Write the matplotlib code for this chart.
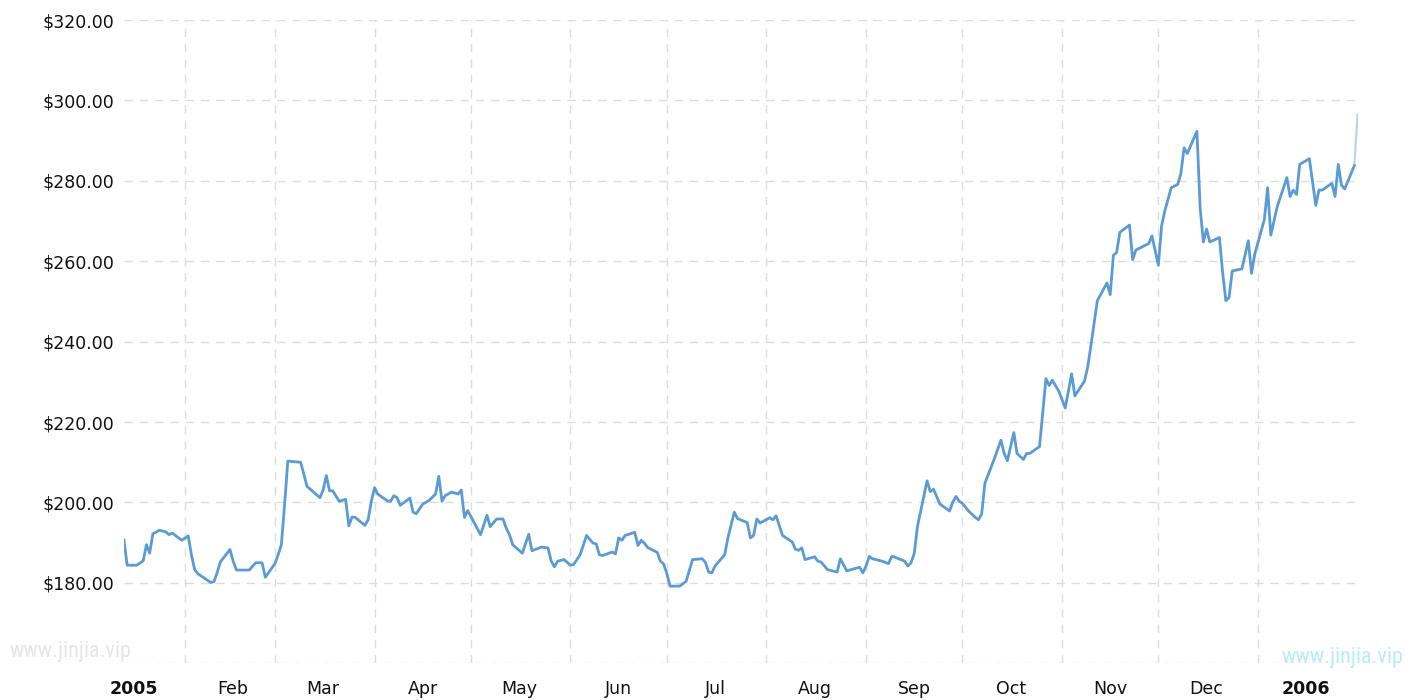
import matplotlib.pyplot as plt
import matplotlib.dates as mdates
from matplotlib import font_manager
import numpy as np
import pandas as pd

dates = [
    "2005-01-13", "2005-01-14", "2005-01-17", "2005-01-19", "2005-01-20", "2005-01-21", "2005-01-22",
    "2005-01-24", "2005-01-26", "2005-01-27", "2005-01-28", "2005-01-31",
    "2005-02-02", "2005-02-03", "2005-02-04", "2005-02-05", "2005-02-07", "2005-02-09", "2005-02-10",
    "2005-02-11", "2005-02-12", "2005-02-15", "2005-02-16", "2005-02-17", "2005-02-21", "2005-02-23",
    "2005-02-25", "2005-02-26",
    "2005-03-01", "2005-03-02", "2005-03-03", "2005-03-04", "2005-03-05", "2005-03-09", "2005-03-11",
    "2005-03-15", "2005-03-16", "2005-03-17", "2005-03-18", "2005-03-19", "2005-03-21", "2005-03-23",
    "2005-03-24", "2005-03-25", "2005-03-26", "2005-03-29", "2005-03-30", "2005-03-31",
    "2005-04-01", "2005-04-02", "2005-04-05", "2005-04-06", "2005-04-07", "2005-04-08", "2005-04-09",
    "2005-04-12", "2005-04-13", "2005-04-14", "2005-04-16", "2005-04-18", "2005-04-20", "2005-04-21",
    "2005-04-22", "2005-04-23", "2005-04-25", "2005-04-27", "2005-04-28", "2005-04-29", "2005-04-30",
    "2005-05-04", "2005-05-06", "2005-05-07", "2005-05-09", "2005-05-11", "2005-05-12", "2005-05-13",
    "2005-05-14", "2005-05-17", "2005-05-19", "2005-05-20", "2005-05-23", "2005-05-25", "2005-05-26",
    "2005-05-27", "2005-05-28", "2005-05-30",
    "2005-06-01", "2005-06-02", "2005-06-04", "2005-06-06", "2005-06-08", "2005-06-09", "2005-06-10",
    "2005-06-11", "2005-06-14", "2005-06-15", "2005-06-16", "2005-06-17", "2005-06-18", "2005-06-21",
    "2005-06-22", "2005-06-23", "2005-06-24", "2005-06-25", "2005-06-28", "2005-06-29", "2005-06-30",
    "2005-07-01", "2005-07-02", "2005-07-05", "2005-07-07", "2005-07-09", "2005-07-12", "2005-07-13",
    "2005-07-14", "2005-07-15", "2005-07-16", "2005-07-19", "2005-07-20", "2005-07-22", "2005-07-23",
    "2005-07-26", "2005-07-27", "2005-07-28", "2005-07-29", "2005-07-30",
    "2005-08-02", "2005-08-03", "2005-08-04", "2005-08-06", "2005-08-09", "2005-08-10", "2005-08-11",
    "2005-08-12", "2005-08-13", "2005-08-16", "2005-08-17", "2005-08-18", "2005-08-20", "2005-08-23",
    "2005-08-24", "2005-08-26", "2005-08-30", "2005-08-31",
    "2005-09-01", "2005-09-02", "2005-09-03", "2005-09-06", "2005-09-08", "2005-09-09", "2005-09-10",
    "2005-09-13", "2005-09-14", "2005-09-15", "2005-09-16", "2005-09-17", "2005-09-20", "2005-09-21",
    "2005-09-22", "2005-09-24", "2005-09-27", "2005-09-28", "2005-09-29", "2005-09-30",
    "2005-10-01", "2005-10-03", "2005-10-05", "2005-10-06", "2005-10-07", "2005-10-08", "2005-10-11",
    "2005-10-13", "2005-10-14", "2005-10-15", "2005-10-17", "2005-10-18", "2005-10-20", "2005-10-21",
    "2005-10-22", "2005-10-25", "2005-10-27", "2005-10-28", "2005-10-29", "2005-10-31",
    "2005-11-02", "2005-11-04", "2005-11-05", "2005-11-08", "2005-11-09", "2005-11-10", "2005-11-12",
    "2005-11-15", "2005-11-16", "2005-11-17", "2005-11-18", "2005-11-19", "2005-11-22", "2005-11-23",
    "2005-11-24", "2005-11-28", "2005-11-29",
    "2005-12-01", "2005-12-02", "2005-12-03", "2005-12-05", "2005-12-07", "2005-12-08", "2005-12-09",
    "2005-12-10", "2005-12-13", "2005-12-14", "2005-12-15", "2005-12-16", "2005-12-17", "2005-12-20",
    "2005-12-21", "2005-12-22", "2005-12-23", "2005-12-24", "2005-12-27", "2005-12-29", "2005-12-30",
    "2005-12-31",
    "2006-01-03", "2006-01-04", "2006-01-05", "2006-01-07", "2006-01-10", "2006-01-11", "2006-01-12",
    "2006-01-13", "2006-01-14", "2006-01-17", "2006-01-19", "2006-01-20", "2006-01-21", "2006-01-24",
    "2006-01-25", "2006-01-26", "2006-01-27", "2006-01-28", "2006-01-31", "2006-02-01",
]

prices = [
    190.7, 184.4, 184.4, 185.5, 189.5, 187.4, 192.2, 193.1, 192.7, 192.0, 192.4, 190.6,
    191.7, 187.0, 183.3, 182.3, 181.2, 180.1, 180.3, 182.5, 185.2, 188.3, 185.4, 183.2, 183.2, 185.0,
    185.0, 181.4,
    184.8, 187.0, 189.5, 199.4, 210.3, 210.0, 204.0, 201.2, 203.1, 206.7, 202.9, 202.9, 200.3, 200.8,
    194.2, 196.4, 196.3, 194.3, 195.7, 200.3,
    203.7, 202.1, 200.4, 200.3, 201.7, 201.2, 199.3, 201.1, 197.6, 197.2, 199.6, 200.5, 202.1, 206.5,
    200.3, 201.7, 202.6, 202.1, 203.1, 196.3, 198.0,
    192.0, 196.8, 194.0, 195.9, 195.9, 193.6, 192.0, 189.5, 187.4, 192.1, 188.0, 188.9, 188.7, 185.4,
    184.0, 185.4, 185.8,
    184.4, 184.6, 187.0, 191.8, 189.9, 189.7, 187.0, 186.8, 187.7, 187.2, 191.2, 190.6, 191.8, 192.6,
    189.3, 190.6, 189.9, 188.8, 187.6, 185.4, 184.7,
    182.3, 179.2, 179.2, 180.4, 185.8, 186.0, 185.1, 182.7, 182.5, 184.2, 187.0, 191.2, 197.6, 196.0,
    195.0, 191.2, 191.8, 195.9, 194.9,
    196.2, 195.7, 196.7, 191.8, 190.2, 188.4, 188.1, 188.7, 185.8, 186.5, 185.4, 185.2, 183.3, 182.7,
    186.0, 183.0, 183.9, 182.5,
    184.2, 186.6, 186.0, 185.4, 184.8, 186.6, 186.4, 185.4, 184.2, 185.0, 187.3, 194.0, 205.4, 202.7,
    203.3, 199.6, 197.9, 200.1, 201.5, 200.3,
    199.8, 197.8, 196.3, 195.7, 197.2, 204.8, 211.0, 215.5, 212.2, 210.4, 217.4, 212.2, 210.7, 212.2,
    212.2, 213.9, 230.8, 229.1, 230.4, 227.7,
    223.5, 232.0, 226.5, 230.2, 233.7, 239.0, 250.2, 254.6, 251.7, 261.5, 262.2, 267.2, 269.0, 260.4,
    262.8, 264.4, 266.3,
    259.0, 268.8, 272.5, 278.3, 279.1, 281.8, 288.2, 286.8, 292.3, 273.3, 264.8, 268.0, 264.8, 265.9,
    257.2, 250.2, 251.0, 257.6, 258.1, 265.1, 257.0, 261.8,
    270.4, 278.3, 266.5, 273.6, 280.8, 276.1, 277.7, 276.6, 284.1, 285.5, 273.9, 277.7, 277.7, 279.4,
    276.1, 284.1, 278.9, 278.0, 283.8, 296.5,
]

month_labels = ["2005", "Feb", "Mar", "Apr", "May", "Jun", "Jul", "Aug", "Sep", "Oct", "Nov", "Dec", "2006"]
y_ticks = [160, 180, 200, 220, 240, 260, 280, 300, 320]

x = pd.to_datetime(dates)
month_starts = pd.date_range("2005-01-01", "2006-01-01", freq="MS")
label_pos = month_starts + pd.Timedelta(days=15)

# pick a condensed face for the watermark if one is around
installed = {f.name for f in font_manager.fontManager.ttflist}
narrow = [f for f in ["Liberation Sans Narrow", "DejaVu Sans Condensed", "Roboto Condensed",
                      "Open Sans Condensed", "Noto Sans"] if f in installed]
wm_family = narrow[:1] + ["DejaVu Sans"]
wm_stretch = "normal" if narrow and narrow[0] != "Noto Sans" else "condensed"

fig = plt.figure(figsize=(14.15, 7), dpi=100)
ax = fig.add_axes([0.0876, 0.0524, 0.8718, 0.919])

grid_kw = dict(color="#dddddd", linewidth=1.0, linestyle=(0, (6, 5)))
line_color = "#5b9bd5"

ax.plot(x[:-1], prices[:-1], color=line_color, linewidth=2.0, zorder=3)
ax.plot(x[-2:], prices[-2:], color=line_color, linewidth=1.5, alpha=0.45, zorder=3)

ax.set_yticks(y_ticks)
ax.set_yticklabels(["" if v == 160 else f"${v:.2f}" for v in y_ticks])

ax.set_xticks(month_starts)
ax.set_xticklabels([""] * len(month_starts))
ax.set_xticks(label_pos, minor=True)
ax.set_xticklabels(month_labels, minor=True)

ax.set_xlim(pd.Timestamp("2005-01-13"), pd.Timestamp("2006-02-01"))
ax.set_ylim(160, 320)

ax.grid(True, which="major", **grid_kw)
ax.set_axisbelow(True)
for s in ax.spines.values():
    s.set_visible(False)

ax.tick_params(axis="both", which="both", length=0)
ax.tick_params(axis="y", labelsize=12.5, pad=7, labelcolor="#111111")
ax.tick_params(axis="x", which="minor", labelsize=12.5, pad=12, labelcolor="#111111")

for t in ax.get_xticklabels(minor=True):
    if t.get_text() in ("2005", "2006"):
        t.set_fontweight("bold")

fig.text(0.007, 0.069, "www.jinjia.vip", fontsize=16, color="#e6e6e6",
         family=wm_family, stretch=wm_stretch, va="center", ha="left")
fig.text(0.992, 0.061, "www.jinjia.vip", fontsize=16, color="#b8eef0",
         family=wm_family, stretch=wm_stretch, va="center", ha="right")

fig.savefig("out.png", dpi=100)
